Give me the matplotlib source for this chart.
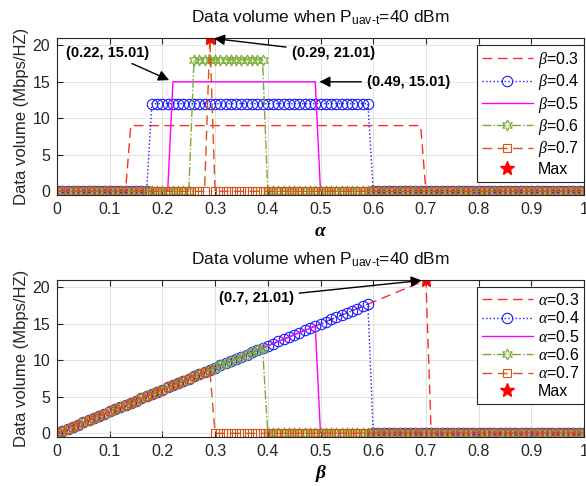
import numpy as np
import matplotlib
matplotlib.use('Agg')
import matplotlib.pyplot as plt

plt.rcParams['font.family'] = ['Liberation Sans', 'DejaVu Sans']
plt.rcParams['mathtext.fontset'] = 'custom'
plt.rcParams['mathtext.rm'] = 'Liberation Sans'
plt.rcParams['mathtext.it'] = 'Liberation Serif:italic'
plt.rcParams['mathtext.bf'] = 'Liberation Serif:bold'

# sampling grid (alpha / beta from 0 to 1, step 0.01)
grid = np.linspace(0, 1, 101)

# top panel: data volume vs alpha for fixed beta
beta_vals = [0.3, 0.4, 0.5, 0.6, 0.7]
top_level = [9.01, 12.01, 15.01, 18.01, 21.01]
top_first = [0.14, 0.18, 0.22, 0.26, 0.29]
top_last = [0.69, 0.59, 0.49, 0.39, 0.29]
top_max = (0.29, 21.01)

# bottom panel: data volume vs beta for fixed alpha
alpha_vals = [0.3, 0.4, 0.5, 0.6, 0.7]
ramp = [0.00, 0.30, 0.60, 0.90, 1.20, 1.50, 1.80, 2.10, 2.40, 2.70,
        3.00, 3.30, 3.60, 3.90, 4.20, 4.50, 4.80, 5.10, 5.40, 5.70,
        6.00, 6.30, 6.60, 6.90, 7.20, 7.50, 7.80, 8.10, 8.40, 8.70,
        9.00, 9.30, 9.60, 9.90, 10.20, 10.50, 10.80, 11.10, 11.40, 11.70,
        12.00, 12.30, 12.60, 12.90, 13.20, 13.50, 13.80, 14.10, 14.40, 14.70,
        15.00, 15.30, 15.60, 15.90, 16.20, 16.50, 16.80, 17.10, 17.40, 17.70,
        18.00, 18.30, 18.60, 18.90, 19.20, 19.50, 19.80, 20.10, 20.40, 20.70,
        21.01]
bot_last = [0.70, 0.59, 0.49, 0.39, 0.29]
bot_max = (0.7, 21.01)

styles = [
    dict(color='#ff2a2a', ls=(0, (7, 4)), marker=None),
    dict(color='#1a1aff', ls=':', marker='o', ms=7.5, mfc='none', mew=0.8),
    dict(color='#ff00ff', ls='-', marker=None),
    dict(color='#77ac30', ls='-.', marker=(6, 1, 0), ms=8, mfc='none', mew=0.8),
    dict(color='#d95319', ls=(0, (7, 4)), marker='s', ms=6, mfc='none', mew=0.8),
]

fig = plt.figure(figsize=(5.86, 4.86), dpi=100)
ax1 = fig.add_axes([57/586, 1-195/486, 527/586, 157/486])
ax2 = fig.add_axes([57/586, 1-437/486, 527/586, 157/486])

for i, b in enumerate(beta_vals):
    y = np.where((grid >= top_first[i] - 1e-9) & (grid <= top_last[i] + 1e-9), top_level[i], 0.0)
    ax1.plot(grid, y, lw=1, label=r'$\beta$=%.1f' % b, **styles[i])
ax1.plot(*top_max, ls='none', marker='*', color='r', ms=10, label='Max')

for i, a in enumerate(alpha_vals):
    n = int(round(bot_last[i] * 100))
    y = np.zeros(101)
    y[:n+1] = ramp[:n+1]
    ax2.plot(grid, y, lw=1, label=r'$\alpha$=%.1f' % a, **styles[i])
ax2.plot(*bot_max, ls='none', marker='*', color='r', ms=10, label='Max')

arr = dict(arrowstyle='-|>', color='k', lw=1, mutation_scale=16, shrinkA=2, shrinkB=3)
fkw = dict(fontsize=10.5, fontweight='bold', ha='center', va='center')
ax1.annotate('(0.22, 15.01)', xy=(0.22, 15.01), xytext=(0.096, 19.0), arrowprops=arr, **fkw)
ax1.annotate('(0.29, 21.01)', xy=top_max, xytext=(0.524, 19.0), arrowprops=arr, **fkw)
ax1.annotate('(0.49, 15.01)', xy=(0.49, 15.01), xytext=(0.667, 15.01), arrowprops=arr, **fkw)
ax2.annotate('(0.7, 21.01)', xy=bot_max, xytext=(0.378, 18.6), arrowprops=arr, **fkw)

for ax, xl in [(ax1, '\u03b1'), (ax2, '\u03b2')]:
    ax.set_xlim(0, 1)
    ax.set_ylim(-0.5, 21.01)
    ax.set_xticks(np.arange(0, 1.01, 0.1))
    ax.set_xticklabels(['0', '0.1', '0.2', '0.3', '0.4', '0.5', '0.6', '0.7', '0.8', '0.9', '1'])
    ax.set_yticks([0, 5, 10, 15, 20])
    ax.grid(True, color='#dedede', lw=0.6)
    ax.set_axisbelow(True)
    ax.tick_params(direction='in', length=4, top=True, right=True, labelsize=11.5,
                   colors='#262626', pad=5)
    for s in ax.spines.values():
        s.set_color('#262626')
        s.set_linewidth(0.8)
    ax.set_title(r'Data volume when P$_{\text{uav-t}}$=40 dBm', fontsize=12.5, pad=11, color='#111111')
    ax.set_ylabel('Data volume (Mbps/HZ)', fontsize=12, color='#262626')
    ax.yaxis.set_label_coords(-0.053, 0.5)
    ax.set_xlabel(xl, fontsize=14, fontweight='bold', fontstyle='italic',
                  family='Liberation Serif', labelpad=4)
    leg = ax.legend(loc='upper right', bbox_to_anchor=(1.0, 1 - 7/157), borderaxespad=0,
                    fontsize=11.5, handlelength=3.2, labelspacing=0.15, fancybox=False,
                    framealpha=1, edgecolor='#262626', borderpad=0.3, handletextpad=0.3,
                    markerfirst=True)
    leg.get_frame().set_linewidth(0.8)

fig.savefig('out.png', dpi=100)
